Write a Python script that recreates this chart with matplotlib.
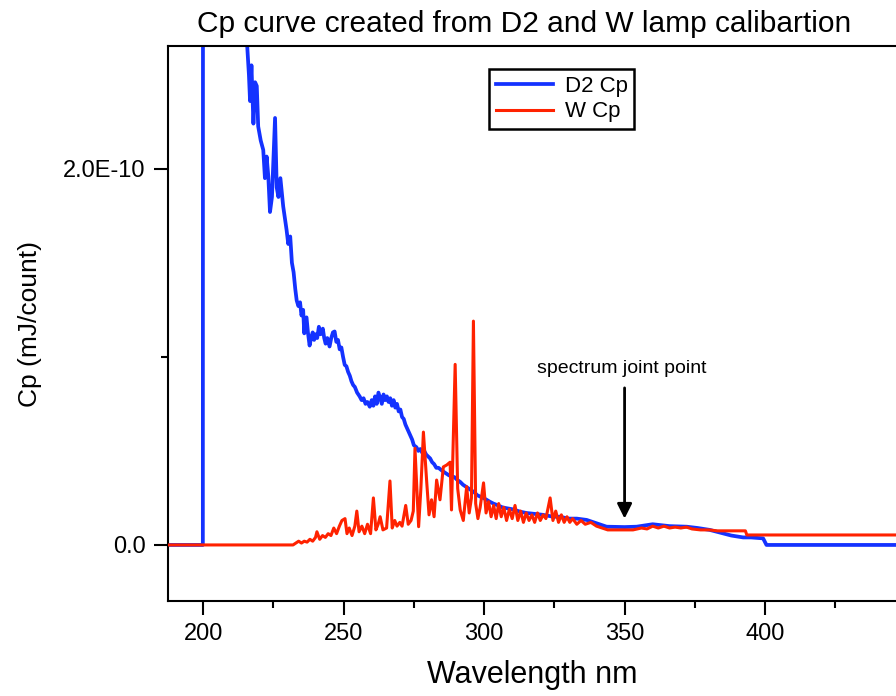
import numpy as np
import matplotlib
matplotlib.use("Agg")
import matplotlib.pyplot as plt
from matplotlib.ticker import MultipleLocator

plt.rcParams["font.family"] = ["Liberation Sans", "DejaVu Sans"]

SCALE = 1e-10

# D2 lamp Cp (values in units of 1E-10 mJ/count)
d2_wl = [187.5, 199.9, 200.0, 214.0, 215.7, 216.3, 216.7, 217.2, 217.9, 218.5, 219.1, 219.6,
         220.5, 221.4, 222.0, 222.6, 223.2, 223.8, 224.5, 225.6, 226.2, 226.8, 227.5, 228.5,
         229.7, 230.3, 231.0, 231.6, 232.2, 232.8, 233.3, 233.9, 234.5, 235.0, 235.6, 236.0,
         236.4, 236.8, 237.3, 237.9, 238.4, 239.0, 239.5, 240.0, 240.6, 241.2, 241.8, 242.6,
         243.1, 243.6, 244.2, 245.0, 245.6, 246.2, 246.8, 247.4, 248.0, 248.6, 249.2, 249.8,
         250.4, 251.0, 251.6, 252.2, 252.8, 253.4, 254.0, 254.8, 255.7, 256.4, 257.1, 257.8,
         258.5, 259.3, 260.0, 260.6, 261.2, 261.8, 262.4, 263.0, 263.6, 264.2, 264.8, 265.4,
         266.0, 266.6, 267.2, 267.8, 268.4, 269.0, 269.6, 270.2, 270.8, 271.4, 272.0, 272.6,
         273.2, 273.8, 274.4, 275.0, 275.9, 276.6, 277.3, 278.0, 278.7, 279.4, 280.1, 280.8,
         281.5, 282.2, 283.0, 283.8, 284.6, 285.5, 286.5, 287.5, 288.5, 289.5, 290.5, 291.5,
         292.5, 293.5, 294.5, 295.5, 296.5, 297.5, 298.6, 299.7, 300.9, 302.0, 303.3, 305.0,
         306.5, 308.1, 310.0, 312.8, 315.0, 318.0, 321.0, 324.6, 327.0, 330.0, 333.0, 336.5,
         340.0, 343.6, 350.0, 354.3, 360.0, 366.0, 372.1, 376.0, 380.3, 385.0, 388.0, 392.2,
         395.0, 399.3, 400.5, 450.0]
d2_cp = [0.0, 0.0, 6.0, 2.9, 2.65, 2.50, 2.36, 2.55, 2.24, 2.46, 2.44, 2.225,
         2.15, 2.10, 1.95, 2.065, 1.96, 1.77, 1.85, 2.27, 1.90, 1.85, 1.95, 1.80,
         1.675, 1.60, 1.64, 1.50, 1.45, 1.36, 1.30, 1.27, 1.29, 1.22, 1.25, 1.125,
         1.20, 1.21, 1.13, 1.06, 1.10, 1.13, 1.09, 1.12, 1.10, 1.16, 1.12, 1.15,
         1.10, 1.07, 1.10, 1.055, 1.10, 1.13, 1.135, 1.08, 1.09, 1.04, 1.05, 1.00,
         0.957, 0.95, 0.92, 0.90, 0.87, 0.85, 0.84, 0.81, 0.79, 0.77, 0.78, 0.75,
         0.76, 0.735, 0.77, 0.74, 0.79, 0.75, 0.81, 0.78, 0.75, 0.80, 0.77, 0.79,
         0.76, 0.78, 0.74, 0.77, 0.73, 0.75, 0.71, 0.72, 0.68, 0.67, 0.64, 0.62,
         0.60, 0.58, 0.56, 0.53, 0.52, 0.50, 0.51, 0.49, 0.50, 0.48, 0.47, 0.46,
         0.44, 0.43, 0.41, 0.41, 0.40, 0.39, 0.38, 0.37, 0.365, 0.36, 0.345, 0.335,
         0.32, 0.31, 0.30, 0.29, 0.28, 0.265, 0.257, 0.25, 0.24, 0.23, 0.22, 0.21,
         0.20, 0.195, 0.19, 0.177, 0.17, 0.165, 0.16, 0.15, 0.15, 0.14, 0.14, 0.133,
         0.115, 0.097, 0.095, 0.097, 0.11, 0.10, 0.097, 0.09, 0.08, 0.062, 0.05, 0.04,
         0.04, 0.035, 0.0, 0.0]

# W lamp Cp (values in units of 1E-10 mJ/count)
w_wl = [187.5, 232.0, 233.0, 234.0, 235.0, 236.0, 237.0, 238.0, 239.0, 240.0, 240.5, 241.5,
        242.5, 243.5, 244.5, 245.5, 246.5, 247.5, 248.5, 249.4, 250.5, 251.2, 252.0, 253.0,
        254.0, 254.7, 255.5, 256.5, 257.5, 258.5, 259.6, 260.6, 261.5, 262.3, 263.0, 264.0,
        265.3, 266.5, 267.3, 268.2, 269.0, 270.0, 270.8, 272.1, 273.0, 274.0, 274.8, 275.4,
        276.7, 277.5, 278.4, 279.6, 280.4, 281.3, 282.2, 283.1, 284.3, 285.5, 286.7, 287.9,
        288.4, 289.7, 290.6, 291.5, 292.6, 293.8, 294.7, 295.5, 296.2, 297.0, 297.8, 298.6,
        299.8, 300.7, 301.6, 302.5, 303.4, 304.3, 305.2, 306.1, 307.0, 308.0, 309.0, 310.0,
        311.0, 312.0, 313.0, 314.0, 315.0, 316.0, 317.0, 318.0, 319.0, 320.0, 321.0, 322.0,
        323.5, 324.5, 325.5, 326.5, 327.5, 328.5, 329.5, 330.5, 331.5, 333.0, 334.5, 336.0,
        338.0, 340.0, 342.0, 344.0, 347.0, 350.0, 353.0, 356.0, 358.0, 360.0, 362.0, 364.0,
        366.0, 368.0, 370.0, 372.0, 374.0, 377.0, 380.0, 383.0, 386.0, 390.0, 393.0, 393.5,
        450.0]
w_cp = [0.0, 0.0, 0.01, 0.02, 0.01, 0.02, 0.015, 0.03, 0.02, 0.04, 0.07, 0.03,
        0.05, 0.04, 0.06, 0.05, 0.09, 0.06, 0.10, 0.13, 0.14, 0.06, 0.09, 0.05,
        0.10, 0.18, 0.07, 0.10, 0.06, 0.11, 0.06, 0.25, 0.08, 0.11, 0.15, 0.08,
        0.09, 0.34, 0.09, 0.13, 0.10, 0.12, 0.10, 0.21, 0.11, 0.13, 0.18, 0.514,
        0.097, 0.30, 0.60, 0.33, 0.16, 0.24, 0.15, 0.345, 0.24, 0.415, 0.425, 0.44,
        0.186, 0.96, 0.30, 0.186, 0.13, 0.31, 0.17, 0.25, 1.19, 0.22, 0.14, 0.20,
        0.33, 0.17, 0.23, 0.15, 0.21, 0.14, 0.22, 0.15, 0.20, 0.13, 0.19, 0.14,
        0.21, 0.13, 0.18, 0.12, 0.17, 0.13, 0.16, 0.12, 0.17, 0.13, 0.16, 0.14,
        0.25, 0.13, 0.18, 0.12, 0.16, 0.12, 0.15, 0.12, 0.14, 0.11, 0.13, 0.11,
        0.12, 0.10, 0.09, 0.08, 0.08, 0.08, 0.08, 0.09, 0.085, 0.10, 0.09, 0.10,
        0.09, 0.095, 0.09, 0.095, 0.085, 0.08, 0.08, 0.075, 0.075, 0.075, 0.075, 0.053,
        0.053]

joint_wl = 350.0

BLUE = "#1432FF"
RED = "#FF2200"

fig = plt.figure(figsize=(8.96, 6.96), dpi=100)
ax = fig.add_axes([0.1875, 0.1365, 0.8125, 0.7967])

ax.plot(d2_wl, np.array(d2_cp) * SCALE, color=BLUE, lw=2.7, label="D2 Cp", zorder=2)
ax.plot(w_wl, np.array(w_cp) * SCALE, color=RED, lw=2.2, label="W Cp", zorder=3)

ax.set_xlim(187.5, 446.6)
ax.set_ylim(-0.298 * SCALE, 2.65 * SCALE)

ax.xaxis.set_minor_locator(MultipleLocator(25))
ax.set_xticks([200, 250, 300, 350, 400])
ax.set_yticks([0.0, 2.0 * SCALE])
ax.set_yticklabels(["0.0", "2.0E-10"])
ax.yaxis.set_minor_locator(MultipleLocator(1.0 * SCALE))

ax.tick_params(which="major", direction="out", length=10, width=1.5, labelsize=17, pad=6)
ax.tick_params(which="minor", direction="out", length=5, width=1.5)
for side in ["left", "bottom", "top"]:
    ax.spines[side].set_linewidth(1.5)
ax.spines["right"].set_visible(False)

ax.set_xlabel("Wavelength nm", fontsize=22, labelpad=11)
ax.set_ylabel("Cp (mJ/count)", fontsize=19, labelpad=15)
fig.text(0.585, 0.965, "Cp curve created from D2 and W lamp calibartion",
         fontsize=21.5, ha="center", va="center")

leg = ax.legend(loc="upper left", bbox_to_anchor=(0.441, 0.959), borderaxespad=0,
                fontsize=16, frameon=True, fancybox=False, edgecolor="black",
                framealpha=1, handlelength=2.6, borderpad=0.3, labelspacing=0.2,
                handletextpad=0.5)
leg.get_frame().set_linewidth(1.8)

ax.text(joint_wl - 1, 0.94 * SCALE, "spectrum joint point", fontsize=14,
        ha="center", va="center")
ax.annotate("", xy=(joint_wl, 0.14 * SCALE), xytext=(joint_wl, 0.835 * SCALE),
            arrowprops=dict(arrowstyle="-|>", color="black", lw=2, mutation_scale=22,
                            shrinkA=0, shrinkB=0))

fig.savefig("out.png", dpi=100)
